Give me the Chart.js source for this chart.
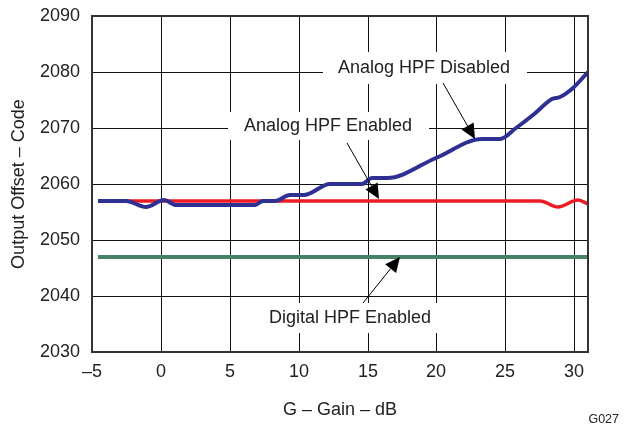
<!DOCTYPE html>
<html><head><meta charset="utf-8">
<script src="https://cdn.jsdelivr.net/npm/chart.js@4/dist/chart.umd.min.js"></script>
<style>html,body{margin:0;padding:0;background:#fff;overflow:hidden}#wrap{width:626px;height:426px}</style>
</head><body><div id="wrap"><canvas id="c" width="626" height="426"></canvas></div>
<script>
// ---- data ----
const gainDisabled   = [-4.6, -2.5, -1.1, 0.25, 1.1, 6.8, 7.4, 8.3, 9.4, 10.4, 12.3, 14.6, 15.3, 16.4, 20, 23.3, 24.6, 25.8, 27, 28.4, 29, 29.9, 31];
const offsetDisabled = [2057, 2057, 2055.9, 2057.1, 2056.3, 2056.3, 2057, 2057, 2058.1, 2058.1, 2060, 2060, 2061, 2061, 2064.6, 2068, 2068, 2070, 2072.3, 2075.1, 2075.6, 2077.1, 2080];
const gainEnabled    = [-4.6, 27.5, 28.8, 30.3, 31];
const offsetEnabled  = [2057, 2057, 2055.9, 2057.1, 2056.4];
const gainDigital    = [-4.6, 31];
const offsetDigital  = [2047, 2047];
const xTicks = [-5, 0, 5, 10, 15, 20, 25, 30];
const yTicks = [2030, 2040, 2050, 2060, 2070, 2080, 2090];
const labelDisabled = 'Analog HPF Disabled';
const labelEnabled  = 'Analog HPF Enabled';
const labelDigital  = 'Digital HPF Enabled';

// ---- annotation layout (data units) ----
const notes = [
  {text: labelDisabled, tx: 19.11, ty: 2080.66, box: [11.77, 2083.6, 26.57, 2077.86], arrow: [20.50, 2077.98, 22.80, 2067.98]},
  {text: labelEnabled,  tx: 12.15, ty: 2070.36, box: [4.87, 2072.91, 19.46, 2067.86], arrow: [13.49, 2067.27, 15.85, 2057.32]},
  {text: labelDigital,  tx: 13.73, ty: 2036.02, box: [6.61, 2038.75, 20.84, 2033.39], arrow: [14.69, 2038.70, 17.39, 2046.96]}
];

const FONT = '"Liberation Sans", Arial, Helvetica, sans-serif';
const TXT = '#222';
const pts = (xs, ys) => xs.map((x, i) => ({x, y: ys[i]}));

function arrow(ctx, x1, y1, x2, y2) {
  const dx = x2 - x1, dy = y2 - y1, len = Math.hypot(dx, dy), ux = dx / len, uy = dy / len;
  const L = 15, W = 7;
  const bx = x2 - ux * L, by = y2 - uy * L;
  ctx.strokeStyle = '#000'; ctx.fillStyle = '#000'; ctx.lineWidth = 1;
  ctx.beginPath(); ctx.moveTo(x1, y1); ctx.lineTo(bx, by); ctx.stroke();
  ctx.beginPath(); ctx.moveTo(x2, y2); ctx.lineTo(bx - uy * W, by + ux * W); ctx.lineTo(bx + uy * W, by - ux * W); ctx.closePath(); ctx.fill();
}

const notePlugin = {
  id: 'notes',
  beforeDatasetsDraw(chart) {
    const {ctx, scales: {x, y}} = chart;
    ctx.save();
    notes.forEach(n => {
      const x1 = x.getPixelForValue(n.box[0]), y1 = y.getPixelForValue(n.box[1]);
      const x2 = x.getPixelForValue(n.box[2]), y2 = y.getPixelForValue(n.box[3]);
      ctx.fillStyle = '#fff';
      ctx.fillRect(x1, y1, x2 - x1, y2 - y1);
      ctx.fillStyle = TXT;
      ctx.font = '18px ' + FONT;
      ctx.textAlign = 'center'; ctx.textBaseline = 'middle';
      ctx.fillText(n.text, x.getPixelForValue(n.tx), y.getPixelForValue(n.ty));
    });
    ctx.restore();
  },
  afterDatasetsDraw(chart) {
    const {ctx, scales: {x, y}, chartArea: a} = chart;
    ctx.save();
    notes.forEach(n => {
      arrow(ctx, x.getPixelForValue(n.arrow[0]), y.getPixelForValue(n.arrow[1]),
                 x.getPixelForValue(n.arrow[2]), y.getPixelForValue(n.arrow[3]));
    });
    ctx.strokeStyle = '#333'; ctx.lineWidth = 2;
    ctx.strokeRect(a.left, a.top, a.right - a.left, a.bottom - a.top);
    ctx.fillStyle = TXT; ctx.font = '12.5px ' + FONT;
    ctx.textAlign = 'right'; ctx.textBaseline = 'alphabetic';
    ctx.fillText('G027', 619, 423);
    ctx.restore();
  }
};

new Chart(document.getElementById('c'), {
  type: 'line',
  data: {
    datasets: [
      {label: labelDisabled, data: pts(gainDisabled, offsetDisabled), borderColor: '#2e3192', borderWidth: 4, cubicInterpolationMode: 'monotone'},
      {label: labelEnabled,  data: pts(gainEnabled, offsetEnabled),   borderColor: '#ed1c24', borderWidth: 3.5, cubicInterpolationMode: 'monotone'},
      {label: labelDigital,  data: pts(gainDigital, offsetDigital),   borderColor: '#468264', borderWidth: 4}
    ]
  },
  options: {
    responsive: false, animation: false, devicePixelRatio: 1,
    layout: {padding: {top: 16, right: 38, left: 0, bottom: 0}},
    elements: {point: {radius: 0}, line: {borderCapStyle: 'butt'}},
    plugins: {legend: {display: false}, tooltip: {enabled: false}},
    scales: {
      x: {
        type: 'linear', min: -5, max: 31, alignToPixels: true,
        afterFit: s => { s.height = 74; s.paddingLeft = 0; s.paddingRight = 0; },
        afterBuildTicks: s => { s.ticks = xTicks.map(v => ({value: v})); },
        ticks: {padding: 9, color: TXT, font: {family: FONT, size: 18},
                callback: v => v < 0 ? '\u2013' + Math.abs(v) : String(v)},
        grid: {color: '#111', lineWidth: 1, drawTicks: false},
        border: {display: false},
        title: {display: true, text: 'G \u2013 Gain \u2013 dB', color: TXT, font: {family: FONT, size: 18}, padding: {top: 0, bottom: 5}}
      },
      y: {
        type: 'linear', min: 2030, max: 2090, alignToPixels: true,
        afterFit: s => { s.width = 92; s.paddingTop = 0; s.paddingBottom = 0; },
        afterBuildTicks: s => { s.ticks = yTicks.map(v => ({value: v})); },
        ticks: {padding: 12, color: TXT, font: {family: FONT, size: 18}, callback: v => String(v)},
        grid: {color: '#111', lineWidth: 1, drawTicks: false},
        border: {display: false},
        title: {display: true, text: 'Output Offset \u2013 Code', color: TXT, font: {family: FONT, size: 18}, padding: {top: 8, bottom: 0}}
      }
    }
  },
  plugins: [notePlugin]
});
</script></body></html>
